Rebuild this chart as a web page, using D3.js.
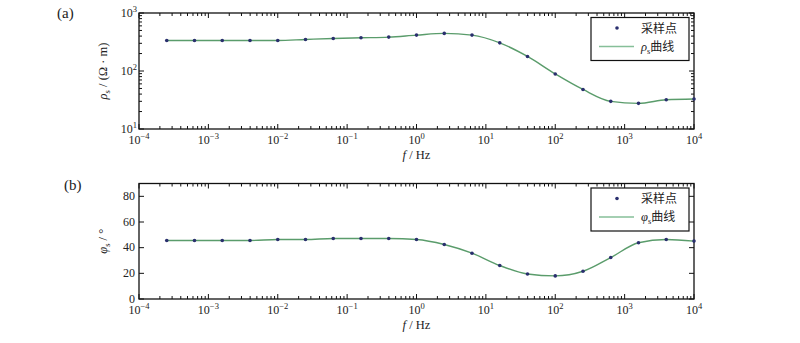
<!DOCTYPE html>
<html lang="zh">
<head>
<meta charset="UTF-8">
<title>rho_s / phi_s</title>
<script src="https://d3js.org/d3.v7.min.js"></script>
<style>
  body { margin: 0; background: #fff; }
  svg { display: block; }
  svg text { font-family: "Liberation Serif", "Times New Roman", Times, "DejaVu Serif", serif; fill: #222; }
  svg text.cjk, svg tspan.cjk { font-family: "Noto Sans CJK SC", sans-serif; }
</style>
</head>
<body>
<svg id="chart" width="800" height="343"></svg>
<script>
// sample frequencies, 10^-3.6 ... 10^4 in steps of 0.4 decade
const freqExp = [-3.6, -3.2, -2.8, -2.4, -2.0, -1.6, -1.2, -0.8, -0.4, 0.0,
                 0.4, 0.8, 1.2, 1.6, 2.0, 2.4, 2.8, 3.2, 3.6, 4.0];
const rhoValues = [336, 336, 336, 336, 336, 350, 364, 374, 384, 416,
                   445, 416, 306, 178, 89, 48, 30, 27.7, 32, 33];
const phiValues = [45.6, 45.6, 45.6, 45.6, 46.4, 46.4, 47.2, 47.2, 47.2, 46.4,
                   42.5, 35.7, 26.1, 19.5, 18.0, 21.6, 32.3, 43.8, 46.4, 45.1];
const xTickExp = [-4, -3, -2, -1, 0, 1, 2, 3, 4];
const rhoTickExp = [1, 2, 3];
const phiTicks = [0, 20, 40, 60, 80];

const freqs = freqExp.map(e => Math.pow(10, e));
const svg = d3.select("#chart");
const serif = "'Liberation Serif', 'Times New Roman', 'DejaVu Serif', serif";

const left = 139, right = 694;
const x = d3.scaleLog().domain([1e-4, 1e4]).range([left, right]);

const lineColor = "#5a9c6b";
const markColor = "#2a2f6e";

function supLabel(sel, exp, ax, ay, anchor) {
  const t = sel.append("text")
    .attr("x", ax).attr("y", ay)
    .attr("text-anchor", anchor)
    .attr("font-family", serif)
    .style("font-size", "12px");
  t.append("tspan").text("10");
  t.append("tspan").attr("dy", -5).style("font-size", "8.5px")
    .text(exp < 0 ? "\u2212" + (-exp) : exp);
}

function drawPanel(opts) {
  const { top, bottom, y, values, isLog, yTicks, tag, yLabel, legendLabel } = opts;
  const g = svg.append("g");

  // frame
  g.append("rect")
    .attr("x", left).attr("y", top)
    .attr("width", right - left).attr("height", bottom - top)
    .attr("fill", "none").attr("stroke", "#111").attr("stroke-width", 1.3);

  // x ticks (inward, top and bottom)
  const ticks = g.append("g").attr("stroke", "#111").attr("stroke-width", 1);
  for (let d = -4; d <= 4; d++) {
    for (let m = 1; m <= 9; m++) {
      const v = m * Math.pow(10, d);
      if (v > 1e4) break;
      const px = x(v);
      const len = m === 1 ? 5 : 3;
      ticks.append("line").attr("x1", px).attr("x2", px)
        .attr("y1", bottom).attr("y2", bottom - len);
      ticks.append("line").attr("x1", px).attr("x2", px)
        .attr("y1", top).attr("y2", top + len);
    }
  }
  xTickExp.forEach(e => supLabel(g, e, x(Math.pow(10, e)), bottom + 15, "middle"));

  // y ticks
  if (isLog) {
    const [lo, hi] = y.domain();
    for (let d = Math.log10(lo); d <= Math.log10(hi); d++) {
      for (let m = 1; m <= 9; m++) {
        const v = m * Math.pow(10, d);
        if (v > hi) break;
        const py = y(v);
        const len = m === 1 ? 5 : 3;
        ticks.append("line").attr("y1", py).attr("y2", py)
          .attr("x1", left).attr("x2", left + len);
        ticks.append("line").attr("y1", py).attr("y2", py)
          .attr("x1", right).attr("x2", right - len);
      }
    }
    yTicks.forEach(e => supLabel(g, e, left - 2, y(Math.pow(10, e)) + 4, "end"));
  } else {
    yTicks.forEach(v => {
      const py = y(v);
      ticks.append("line").attr("y1", py).attr("y2", py)
        .attr("x1", left).attr("x2", left + 5);
      ticks.append("line").attr("y1", py).attr("y2", py)
        .attr("x1", right).attr("x2", right - 5);
      g.append("text").attr("x", left - 4).attr("y", py + 3.5)
        .attr("font-family", serif)
        .attr("text-anchor", "end").style("font-size", "12px").text(v);
    });
  }

  // curve
  const pts = freqs.map((f, i) => [x(f), y(values[i])]);
  g.append("path")
    .attr("d", d3.line().curve(d3.curveMonotoneX)(pts))
    .attr("fill", "none").attr("stroke", lineColor).attr("stroke-width", 1.4);

  // sample points
  g.selectAll("circle.pt").data(pts).enter().append("circle")
    .attr("class", "pt")
    .attr("cx", d => d[0]).attr("cy", d => d[1]).attr("r", 1.8)
    .attr("fill", markColor);

  // axis titles
  const xl = g.append("text").attr("x", (left + right) / 2).attr("y", bottom + 30)
    .attr("font-family", serif)
    .attr("text-anchor", "middle").style("font-size", "12.5px");
  xl.append("tspan").attr("font-style", "italic").text("f");
  xl.append("tspan").text(" / Hz");

  const yl = g.append("text")
    .attr("transform", `translate(${left - 32},${(top + bottom) / 2}) rotate(-90)`)
    .attr("font-family", serif)
    .attr("text-anchor", "middle").style("font-size", "12.5px");
  yl.append("tspan").attr("font-style", "italic").text(yLabel[0]);
  yl.append("tspan").attr("dy", 3).style("font-size", "8.5px").text("s");
  yl.append("tspan").attr("dy", -3).text(yLabel[1]);

  g.append("text").attr("x", tag.x).attr("y", tag.y)
    .attr("font-family", serif)
    .style("font-size", "15px").text(tag.text);

  // legend
  const lx = 591, ly = top + 4.5, lw = 98, lh = 43;
  const lg = g.append("g");
  lg.append("rect").attr("x", lx).attr("y", ly).attr("width", lw).attr("height", lh)
    .attr("fill", "#fff").attr("stroke", "#111").attr("stroke-width", 1.2);
  lg.append("circle").attr("cx", lx + 26).attr("cy", ly + 10.5).attr("r", 1.8)
    .attr("fill", markColor);
  lg.append("text").attr("class", "cjk").attr("x", lx + 50).attr("y", ly + 15)
    .style("font-size", "12px").text("采样点");
  lg.append("line").attr("x1", lx + 8).attr("x2", lx + 43)
    .attr("y1", ly + 29).attr("y2", ly + 29)
    .attr("stroke", "#86bf99").attr("stroke-width", 1.6);
  const lt = lg.append("text").attr("x", lx + 50).attr("y", ly + 33)
    .attr("font-family", serif).style("font-size", "12.5px");
  lt.append("tspan").attr("font-style", "italic").text(legendLabel);
  lt.append("tspan").attr("dy", 3).style("font-size", "8.5px").text("s");
  lt.append("tspan").attr("dy", -3).attr("class", "cjk")
    .attr("font-family", "'Noto Sans CJK SC', sans-serif").style("font-size", "12px").text("曲线");
}

drawPanel({
  top: 13, bottom: 129,
  y: d3.scaleLog().domain([10, 1000]).range([129, 13]),
  values: rhoValues, isLog: true, yTicks: rhoTickExp,
  tag: { x: 57, y: 18, text: "(a)" },
  yLabel: ["\u03C1", " / (\u03A9 \u00B7 m)"],
  legendLabel: "\u03C1"
});

drawPanel({
  top: 183.5, bottom: 299,
  y: d3.scaleLinear().domain([0, 90]).range([299, 183.5]),
  values: phiValues, isLog: false, yTicks: phiTicks,
  tag: { x: 64, y: 190, text: "(b)" },
  yLabel: ["\u03C6", " / \u00B0"],
  legendLabel: "\u03C6"
});
</script>
</body>
</html>
